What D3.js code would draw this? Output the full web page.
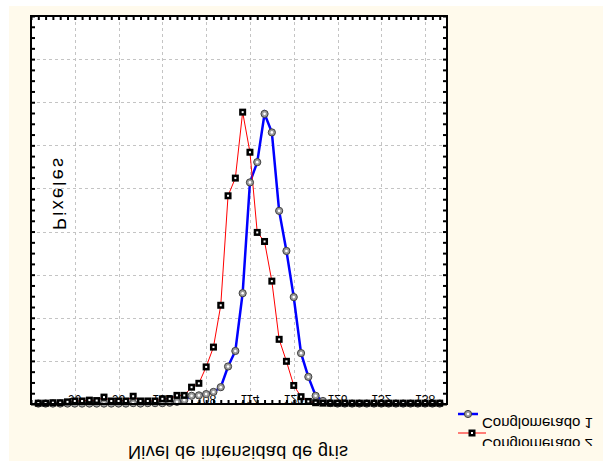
<!DOCTYPE html>
<html lang="es">
<head>
<meta charset="UTF-8">
<title>Conglomerados</title>
<script src="https://d3js.org/d3.v7.min.js"></script>
<style>
  body { margin: 0; background: #ffffff; }
  svg { display: block; font-family: "Liberation Sans", Arial, sans-serif; }
</style>
</head>
<body>
<svg id="chart" width="603" height="461"></svg>
<script>
// gray levels (x categories)
var grayLevels = [85, 86, 87, 88, 89, 90, 91, 92, 93, 94, 95, 96, 97, 98, 99, 100,
  101, 102, 103, 104, 105, 106, 107, 108, 109, 110, 111, 112, 113, 114, 115, 116,
  117, 118, 119, 120, 121, 122, 123, 124, 125, 126, 127, 128, 129, 130, 131, 132,
  133, 134, 135, 136, 137, 138, 139, 140];

// pixel counts per cluster
var cluster1 = [1, 1, 1, 1, 1, 1, 1, 1, 1, 1, 1, 1, 1, 2, 1, 2,
  2, 2, 3, 5, 9, 19, 20, 23, 28, 39, 87, 123, 257, 514, 561, 673,
  630, 448, 355, 248, 118, 63, 19, 7, 2, 1, 1, 1, 1, 1, 1, 1,
  1, 1, 1, 1, 1, 1, 1, 1];
var cluster2 = [2, 2, 3, 3, 5, 7, 7, 9, 8, 16, 7, 7, 7, 18, 7, 7,
  7, 12, 12, 20, 20, 39, 48, 86, 132, 229, 483, 524, 677, 584, 398, 377,
  285, 150, 99, 43, 17, 6, 3, 2, 2, 2, 2, 2, 2, 2, 2, 2,
  2, 2, 2, 2, 2, 2, 2, 2];

var xTicks = [84, 90, 96, 102, 108, 114, 120, 126, 132, 138];
var yTicks = [0, 100, 200, 300, 400, 500, 600, 700, 800, 900];
var seriesNames = ["Conglomerado 1", "Conglomerado 2"];

var svg = d3.select("#chart");

// cream background
svg.append("rect").attr("x", 9).attr("y", 6).attr("width", 594).attr("height", 455)
  .attr("fill", "#fffaec");

var pLeft = 31, pRight = 447, pTop = 16, pBottom = 404;

var x = d3.scaleLinear().domain([84, 141]).range([pLeft, pRight]);
var y = d3.scaleLinear().domain([0, 900]).range([pBottom, pTop]);

svg.append("rect").attr("x", pLeft).attr("y", pTop)
  .attr("width", pRight - pLeft).attr("height", pBottom - pTop).attr("fill", "#ffffff");

// grid
var grid = svg.append("g").attr("stroke", "#c4c4c4").attr("stroke-dasharray", "3,3").attr("stroke-width", 1);
grid.selectAll(".gx").data(xTicks.slice(1)).enter().append("line")
  .attr("x1", function(d) { return Math.round(x(d)) + 0.5; })
  .attr("x2", function(d) { return Math.round(x(d)) + 0.5; })
  .attr("y1", pTop).attr("y2", pBottom);
grid.selectAll(".gy").data(yTicks.slice(1, -1)).enter().append("line")
  .attr("y1", function(d) { return Math.round(y(d)) + 0.5; })
  .attr("y2", function(d) { return Math.round(y(d)) + 0.5; })
  .attr("x1", pLeft).attr("x2", pRight);

// inner ticks on all four sides
var minorY = d3.range(0, 901, 25);
var minorX = d3.range(84, 141, 1);
function thick(g) { g.select(".domain").remove(); g.selectAll("line").attr("stroke-width", 2); }
svg.append("g").attr("transform", "translate(" + pLeft + ",0)")
  .call(d3.axisRight(y).tickValues(minorY).tickSize(4).tickFormat("")).call(thick);
svg.append("g").attr("transform", "translate(" + pRight + ",0)")
  .call(d3.axisLeft(y).tickValues(minorY).tickSize(4).tickFormat("")).call(thick);
svg.append("g").attr("transform", "translate(0," + pTop + ")")
  .call(d3.axisBottom(x).tickValues(minorX).tickSize(4).tickFormat("")).call(thick);
svg.append("g").attr("transform", "translate(0," + pBottom + ")")
  .call(d3.axisTop(x).tickValues(minorX).tickSize(4).tickFormat("")).call(thick);

// x tick labels (mirrored vertically like the picture)
svg.append("g").selectAll("text").data(xTicks.slice(1)).enter().append("text")
  .attr("transform", function(d) { return "translate(" + x(d) + ",395) scale(1,-1)"; })
  .attr("text-anchor", "middle").attr("font-size", 12).attr("fill", "#000")
  .text(function(d) { return d; });

// series
var pts1 = grayLevels.map(function(g, i) { return [g, cluster1[i]]; });
var pts2 = grayLevels.map(function(g, i) { return [g, cluster2[i]]; });
var line = d3.line().x(function(d) { return x(d[0]); }).y(function(d) { return y(d[1]); });

svg.append("path").datum(pts1).attr("d", line)
  .attr("fill", "none").attr("stroke", "#0000ff").attr("stroke-width", 2.5);
svg.append("path").datum(pts2).attr("d", line)
  .attr("fill", "none").attr("stroke", "#ff0000").attr("stroke-width", 1);

function circleMark(sel) {
  sel.append("circle").attr("r", 3.6).attr("fill", "#9a9a9a").attr("stroke", "#404040").attr("stroke-width", 1);
  sel.append("circle").attr("r", 1.3).attr("fill", "#ffffff");
}
function squareMark(sel) {
  sel.append("rect").attr("x", -3.5).attr("y", -3.5).attr("width", 7).attr("height", 7).attr("fill", "#000");
  sel.append("rect").attr("x", -1).attr("y", -1).attr("width", 2).attr("height", 2).attr("fill", "#ffffff");
}

svg.append("g").selectAll("g").data(pts1).enter().append("g")
  .attr("transform", function(d) { return "translate(" + x(d[0]) + "," + y(d[1]) + ")"; })
  .call(circleMark);
svg.append("g").selectAll("g").data(pts2).enter().append("g")
  .attr("transform", function(d) { return "translate(" + x(d[0]) + "," + y(d[1]) + ")"; })
  .call(squareMark);

// frame
svg.append("rect").attr("x", pLeft).attr("y", pTop)
  .attr("width", pRight - pLeft).attr("height", pBottom - pTop)
  .attr("fill", "none").attr("stroke", "#000").attr("stroke-width", 2);

// axis titles (mirrored)
svg.append("text").attr("transform", "translate(238,446) scale(1,-1)")
  .attr("text-anchor", "middle").attr("font-size", 18).attr("textLength", 220)
  .attr("lengthAdjust", "spacing").text("Nivel de intensidad de gris");
svg.append("text").attr("transform", "matrix(0,-1,-1,0,53,194)")
  .attr("text-anchor", "middle").attr("font-size", 18).attr("textLength", 72)
  .attr("lengthAdjust", "spacing").text("Pixeles");

// legend
svg.append("clipPath").attr("id", "legclip").append("rect")
  .attr("x", 450).attr("y", 405).attr("width", 153).attr("height", 41);
var leg = svg.append("g").attr("clip-path", "url(#legclip)");
leg.append("line").attr("x1", 458).attr("x2", 478).attr("y1", 414).attr("y2", 414)
  .attr("stroke", "#0000ff").attr("stroke-width", 2.5);
leg.append("g").attr("transform", "translate(468,414)").call(circleMark);
leg.append("line").attr("x1", 458).attr("x2", 486).attr("y1", 433).attr("y2", 433)
  .attr("stroke", "#ff0000").attr("stroke-width", 1);
leg.append("g").attr("transform", "translate(472,433)").call(squareMark);
leg.selectAll("text").data(seriesNames).enter().append("text")
  .attr("transform", function(d, i) { return "translate(482," + (417.5 + i * 21.5) + ") scale(1,-1)"; })
  .attr("font-size", 15).text(function(d) { return d; });
</script>
</body>
</html>
